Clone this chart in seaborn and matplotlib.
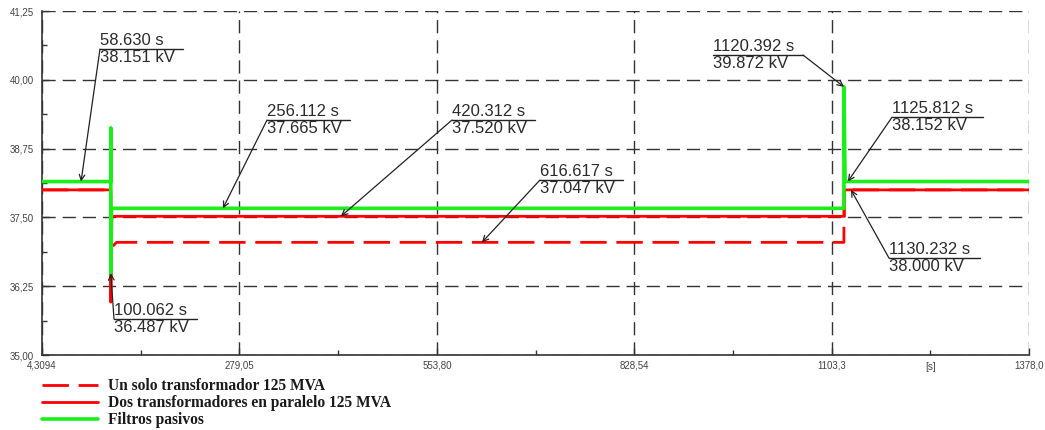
import matplotlib
matplotlib.use('Agg')
import matplotlib.pyplot as plt
from matplotlib.ticker import FixedLocator, FixedFormatter
import seaborn as sns

# Series de tension (tiempo en s, tension en kV)
t_un_solo = [4.3094, 100.062, 100.062, 103.0, 108.0, 1120.392, 1120.392, 1378.0]
v_un_solo = [38.000, 38.000, 36.800, 36.980, 37.047, 37.047, 38.000, 38.000]

t_paralelo = [4.3094, 100.062, 100.062, 101.5, 1121.0, 1121.0, 1378.0]
v_paralelo = [38.000, 38.000, 35.960, 37.520, 37.520, 38.000, 38.000]

t_filtros = [4.3094, 100.062, 100.062, 100.062, 101.0, 1120.392, 1120.392, 1122.0, 1378.0]
v_filtros = [38.151, 38.151, 39.120, 36.487, 37.665, 37.665, 39.872, 38.152, 38.152]

etiquetas = ['Un solo transformador 125 MVA',
             'Dos transformadores en paralelo 125 MVA',
             'Filtros pasivos']

# Ejes
x_ticks = [4.3094, 279.05, 553.80, 828.54, 1103.3, 1378.0]
x_labels = ['4,3094', '279,05', '553,80', '828,54', '1103,3', '1378,0']
y_ticks = [35.00, 36.25, 37.50, 38.75, 40.00, 41.25]
y_labels = ['35,00', '36,25', '37,50', '38,75', '40,00', '41,25']

# Marcadores: tiempo, tension
marcas_t = [58.630, 100.062, 256.112, 420.312, 616.617, 1120.392, 1125.812, 1130.232]
marcas_v = [38.151, 36.487, 37.665, 37.520, 37.047, 39.872, 38.152, 38.000]
# posicion del recuadro (inicio del subrayado), ancho y lado de la guia
cajas = [(85.0, 40.56, 115.5, 'l'), (104.5, 35.654, 115.5, 'l'),
         (317.5, 39.27, 115.5, 'l'), (575.0, 39.27, 115.5, 'l'),
         (697.4, 38.18, 115.5, 'l'), (938.2, 40.45, 125.3, 'r'),
         (1187.3, 39.32, 126.6, 'l'), (1183.2, 36.76, 126.6, 'l')]

sns.set_style('ticks')
plt.rcParams['font.family'] = ['Liberation Sans', 'DejaVu Sans']

fig = plt.figure(figsize=(10.45, 4.30), dpi=100)
ax = fig.add_axes([0.0402, 0.1744, 0.9445, 0.8000])

rojo = '#ff0000'
verde = '#19ef19'
sns.lineplot(x=t_un_solo, y=v_un_solo, ax=ax, sort=False, estimator=None,
             color=rojo, lw=2.0, linestyle=(0, (9.5, 3.5)), label=etiquetas[0], zorder=3)
sns.lineplot(x=t_paralelo, y=v_paralelo, ax=ax, sort=False, estimator=None,
             color=rojo, lw=2.0, label=etiquetas[1], zorder=3)
sns.lineplot(x=t_filtros, y=v_filtros, ax=ax, sort=False, estimator=None,
             color=verde, lw=2.6, label=etiquetas[2], zorder=4)

ax.set_xlim(x_ticks[0], x_ticks[-1])
ax.set_ylim(y_ticks[0], y_ticks[-1])
ax.xaxis.set_major_locator(FixedLocator(x_ticks))
ax.xaxis.set_major_formatter(FixedFormatter(x_labels))
ax.yaxis.set_major_locator(FixedLocator(y_ticks))
ax.yaxis.set_major_formatter(FixedFormatter(y_labels))
ax.xaxis.set_minor_locator(FixedLocator([(a + b) / 2 for a, b in zip(x_ticks[:-1], x_ticks[1:])]))
ax.yaxis.set_minor_locator(FixedLocator([(a + b) / 2 for a, b in zip(y_ticks[:-1], y_ticks[1:])]))
ax.tick_params(which='major', direction='in', length=5, width=1, labelsize=7,
               labelcolor='#444444', color='#333333')
ax.tick_params(which='minor', direction='in', length=3.5, width=1, color='#333333')
ax.tick_params(axis='x', pad=4)
ax.tick_params(axis='y', pad=6)
ax.set_xlabel('')
ax.set_ylabel('')

ax.grid(True, which='major', color='#333333', lw=1.0, linestyle=(0, (9.5, 5)))
ax.set_axisbelow(True)
for s in ['top', 'right']:
    ax.spines[s].set_visible(False)
for s in ['left', 'bottom']:
    ax.spines[s].set_color('#333333')
    ax.spines[s].set_linewidth(1.2)

# unidad del eje x
ax.text(1240.65, -0.019, '[s]', transform=ax.get_xaxis_transform(),
        ha='center', va='top', fontsize=7, color='#444444')

# anotaciones
for t, v, (x0, y0, w, lado) in zip(marcas_t, marcas_v, cajas):
    ax.plot([x0, x0 + w], [y0, y0], color='#222222', lw=1.0, zorder=5)
    ax.text(x0, y0 + 0.02, f'{t:.3f} s', ha='left', va='bottom', fontsize=12,
            color='#2b2b2b', zorder=5)
    ax.text(x0, y0 - 0.01, f'{v:.3f} kV', ha='left', va='top', fontsize=12,
            color='#2b2b2b', zorder=5)
    xs = x0 if lado == 'l' else x0 + w
    ax.annotate('', xy=(t, v), xytext=(xs, y0),
                arrowprops=dict(arrowstyle='->', color='#222222', lw=0.9,
                                shrinkA=0, shrinkB=0), zorder=5)

ax.legend(loc='upper left', bbox_to_anchor=(0.040, 0.121), bbox_transform=fig.transFigure,
          frameon=False, borderpad=0, borderaxespad=0, handlelength=3.6,
          handletextpad=0.64, labelspacing=0.08,
          prop={'family': 'Liberation Serif', 'weight': 'bold', 'size': 11.2},
          labelcolor='#1a1a1a')

fig.savefig('out.png', dpi=100)
